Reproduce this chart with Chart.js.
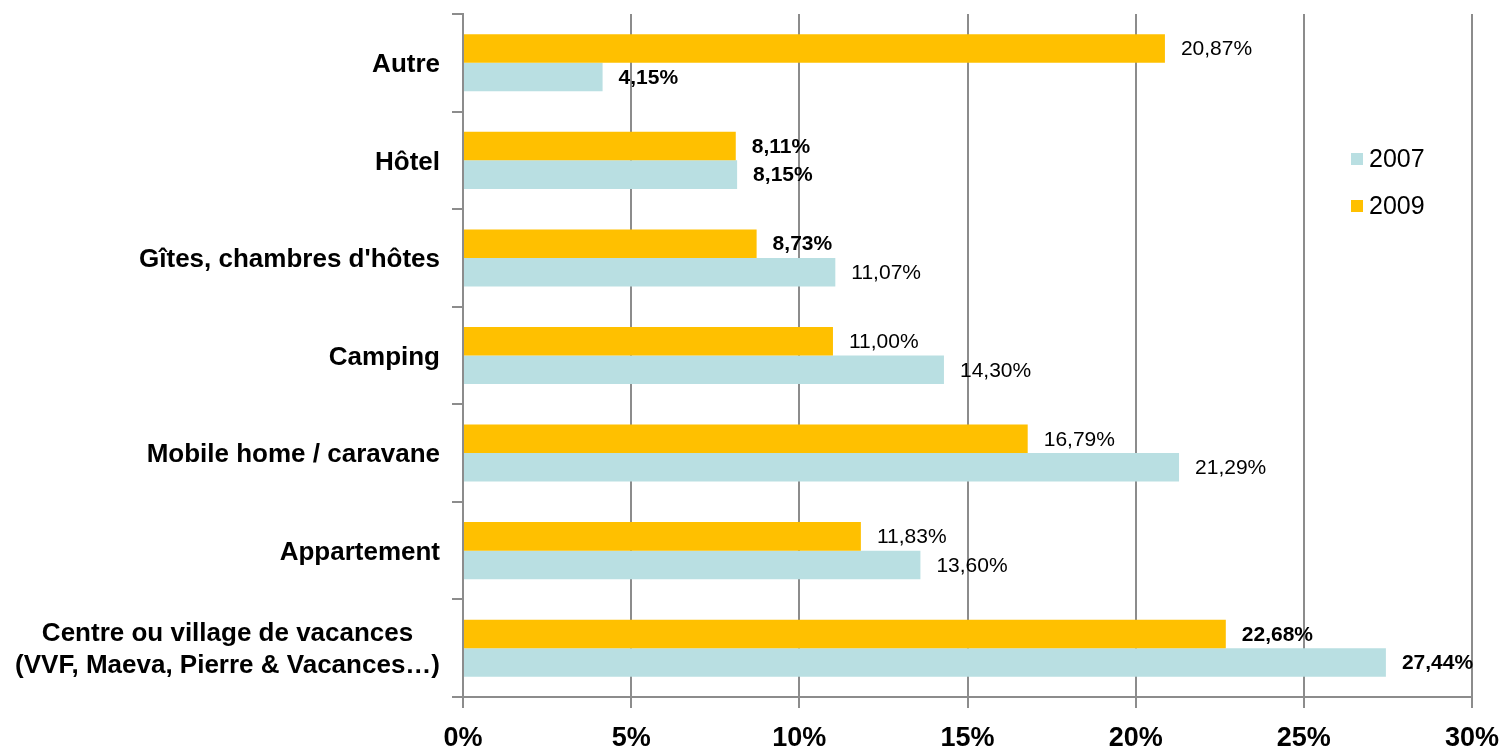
<!DOCTYPE html>
<html>
<head>
<meta charset="utf-8">
<script src="https://cdn.jsdelivr.net/npm/chart.js@4/dist/chart.umd.min.js"></script>
<style>
  html, body { margin: 0; padding: 0; background: #fff; }
  #wrap { width: 1500px; height: 749px; }
</style>
</head>
<body>
<div id="wrap"><canvas id="c" width="1500" height="749"></canvas></div>
<script>
const categories = [
  "Autre",
  "Hôtel",
  "Gîtes, chambres d'hôtes",
  "Camping",
  "Mobile home / caravane",
  "Appartement",
  ["Centre ou village de vacances", "(VVF, Maeva, Pierre & Vacances…)"]
];
const values2009 = [20.87, 8.11, 8.73, 11.00, 16.79, 11.83, 22.68];
const values2007 = [4.15, 8.15, 11.07, 14.30, 21.29, 13.60, 27.44];
const xTickValues = [0, 5, 10, 15, 20, 25, 30];

// label weight style (as seen in the reference)
const boldLabels2009 = [false, true, true, false, false, false, true];
const boldLabels2007 = [true, true, false, false, false, false, true];

const FONT = '"Liberation Sans", Arial, sans-serif';
const COL2009 = '#FFC000';
const COL2007 = '#B9DFE2';
const GRID = '#8C8C8C';

const fmt = v => v.toFixed(2).replace('.', ',') + '%';

const valueLabels = {
  id: 'valueLabels',
  afterDatasetsDraw(chart) {
    const ctx = chart.ctx;
    ctx.save();
    ctx.fillStyle = '#000';
    ctx.textBaseline = 'middle';
    ctx.textAlign = 'left';
    chart.data.datasets.forEach((ds, di) => {
      const meta = chart.getDatasetMeta(di);
      meta.data.forEach((bar, i) => {
        const bold = ds.boldFlags[i];
        ctx.font = (bold ? 'bold ' : '') + '21px ' + FONT;
        ctx.fillText(fmt(ds.data[i]), bar.x + 16, bar.y + 1);
      });
    });
    ctx.restore();
  }
};

const catLabels = {
  id: 'catLabels',
  afterDraw(chart) {
    const ctx = chart.ctx;
    const ys = chart.scales.y;
    ctx.save();
    ctx.fillStyle = '#000';
    ctx.textBaseline = 'middle';
    ctx.font = 'bold 26px ' + FONT;
    const right = 440;
    chart.data.labels.forEach((lab, i) => {
      const y = ys.getPixelForTick(i);
      if (Array.isArray(lab)) {
        const w = Math.max(...lab.map(l => ctx.measureText(l).width));
        const cx = right - w / 2;
        ctx.textAlign = 'center';
        const lh = 32;
        const y0 = y + 2 - lh * (lab.length - 1) / 2;
        lab.forEach((l, k) => ctx.fillText(l, cx, y0 + k * lh));
      } else {
        ctx.textAlign = 'right';
        ctx.fillText(lab, right, y + 2);
      }
    });
    ctx.restore();
  }
};

const legendPlugin = {
  id: 'customLegend',
  afterDraw(chart) {
    const ctx = chart.ctx;
    ctx.save();
    ctx.textBaseline = 'middle';
    ctx.textAlign = 'left';
    ctx.font = '25px ' + FONT;
    const order = [1, 0];
    order.forEach((di, k) => {
      const ds = chart.data.datasets[di];
      const yc = 159 + k * 47;
      ctx.fillStyle = ds.backgroundColor;
      ctx.fillRect(1351, yc - 6, 12, 12);
      ctx.fillStyle = '#000';
      ctx.fillText(ds.label, 1369, yc + 1);
    });
    ctx.restore();
  }
};

new Chart(document.getElementById('c'), {
  type: 'bar',
  data: {
    labels: categories,
    datasets: [
      { label: '2009', data: values2009, backgroundColor: COL2009, boldFlags: boldLabels2009,
        categoryPercentage: 0.585, barPercentage: 1.0 },
      { label: '2007', data: values2007, backgroundColor: COL2007, boldFlags: boldLabels2007,
        categoryPercentage: 0.585, barPercentage: 1.0 }
    ]
  },
  options: {
    indexAxis: 'y',
    responsive: false,
    animation: false,
    layout: { padding: { top: 14, right: 28, left: 0, bottom: 0 } },
    plugins: { legend: { display: false }, tooltip: { enabled: false } },
    scales: {
      x: {
        min: 0, max: 30,
        afterBuildTicks: s => { s.ticks = xTickValues.map(v => ({ value: v })); },
        afterFit: s => { s.height = 52; s.paddingLeft = 0; s.paddingRight = 0; },
        grid: { color: GRID, lineWidth: 2, tickLength: 11, drawTicks: true },
        border: { color: GRID, width: 2 },
        ticks: {
          callback: v => v + '%',
          color: '#000',
          padding: 14,
          font: { family: FONT, size: 27, weight: 'bold' },
          maxRotation: 0
        }
      },
      y: {
        afterFit: s => { s.width = 463; s.paddingTop = 0; s.paddingBottom = 0; },
        grid: { color: GRID, lineWidth: 2, drawOnChartArea: false, tickLength: 11, offset: true },
        border: { color: GRID, width: 2 },
        ticks: { display: false }
      }
    }
  },
  plugins: [valueLabels, catLabels, legendPlugin]
});
</script>
</body>
</html>
